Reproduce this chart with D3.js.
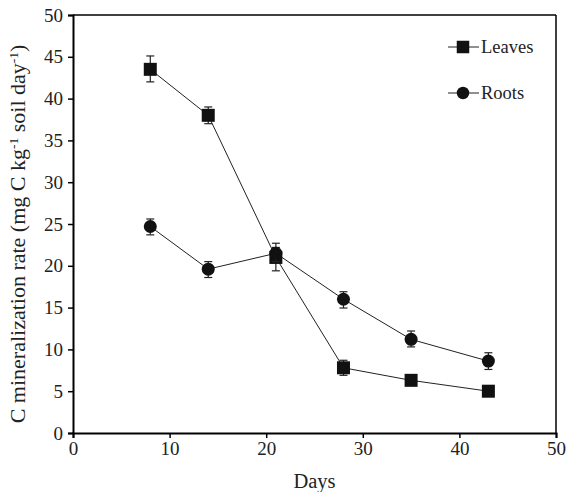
<!DOCTYPE html>
<html><head><meta charset="utf-8">
<script src="https://cdn.jsdelivr.net/npm/d3@7/dist/d3.min.js"></script>
<style>body{margin:0;background:#fff}svg{display:block}</style>
</head><body>
<svg id="c" width="567" height="492"></svg>
<script>
const days = [8, 14, 21, 28, 35, 43];
const leaves = [43.5, 38.0, 21.0, 7.8, 6.3, 5.0];
const leavesLo = [42.0, 37.0, 19.4, 6.9, 5.9, 4.7];
const leavesHi = [45.1, 39.0, 22.2, 8.7, 6.7, 5.3];
const roots = [24.7, 19.6, 21.5, 16.0, 11.2, 8.6];
const rootsLo = [23.7, 18.6, 20.5, 14.95, 10.3, 7.6];
const rootsHi = [25.6, 20.5, 22.7, 16.9, 12.2, 9.6];
const xTicks = [0, 10, 20, 30, 40, 50];
const yTicks = [0, 5, 10, 15, 20, 25, 30, 35, 40, 45, 50];
const seriesNames = ["Leaves", "Roots"];

const svg = d3.select("#c");
const font = "'Liberation Serif', 'Times New Roman', serif";
const x = d3.scaleLinear().domain([0, 50]).range([73, 556]);
const y = d3.scaleLinear().domain([0, 50]).range([433, 15]);

// frame top/right
svg.append("line").attr("x1", x(0)).attr("x2", x(50)).attr("y1", y(50)).attr("y2", y(50)).attr("stroke", "#000").attr("stroke-width", 1.5);
svg.append("line").attr("x1", x(50)).attr("x2", x(50)).attr("y1", y(50)).attr("y2", y(0)).attr("stroke", "#000").attr("stroke-width", 1.5);

const xa = svg.append("g").attr("transform", `translate(0,${y(0)})`)
  .call(d3.axisBottom(x).tickValues(xTicks).tickSize(5).tickPadding(4));
const ya = svg.append("g").attr("transform", `translate(${x(0)},0)`)
  .call(d3.axisLeft(y).tickValues(yTicks).tickSize(5).tickPadding(5));
[xa, ya].forEach(g => {
  g.select(".domain").attr("stroke-width", 2).attr("stroke", "#000");
  g.selectAll(".tick line").attr("stroke-width", 1.5).attr("stroke", "#000");
  g.selectAll("text").attr("font-family", font).attr("font-size", 19).attr("fill", "#222");
});

svg.append("text").attr("x", (x(0) + x(50)) / 2).attr("y", 488).attr("text-anchor", "middle")
  .attr("font-family", font).attr("font-size", 20.5).attr("fill", "#222").text("Days");

const yl = svg.append("text").attr("transform", `translate(25,234) rotate(-90)`)
  .attr("text-anchor", "middle").attr("font-family", font).attr("font-size", 22).attr("fill", "#222");
yl.append("tspan").text("C mineralization rate (mg C kg");
yl.append("tspan").attr("dy", -7).attr("font-size", 13.5).text("-1");
yl.append("tspan").attr("dy", 7).text(" soil day");
yl.append("tspan").attr("dy", -7).attr("font-size", 13.5).text("-1");
yl.append("tspan").attr("dy", 7).text(")");

const line = d3.line().x(d => x(d[0])).y(d => y(d[1]));
const series = [
  {name: seriesNames[0], v: leaves, lo: leavesLo, hi: leavesHi, shape: "square"},
  {name: seriesNames[1], v: roots, lo: rootsLo, hi: rootsHi, shape: "circle"}
];
const fill = "#111";
function marker(g, shape, cx, cy, s) {
  if (shape === "square") g.append("rect").attr("x", cx - s / 2).attr("y", cy - s / 2).attr("width", s).attr("height", s).attr("fill", fill);
  else g.append("circle").attr("cx", cx).attr("cy", cy).attr("r", s / 2).attr("fill", fill);
}
series.forEach(s => {
  const pts = days.map((d, i) => [d, s.v[i]]);
  svg.append("path").attr("d", line(pts)).attr("fill", "none").attr("stroke", "#222").attr("stroke-width", 1);
});
series.forEach(s => {
  const g = svg.append("g");
  days.forEach((d, i) => {
    const cx = x(d);
    g.append("line").attr("x1", cx).attr("x2", cx).attr("y1", y(s.lo[i])).attr("y2", y(s.hi[i])).attr("stroke", "#222").attr("stroke-width", 1.2);
    [s.lo[i], s.hi[i]].forEach(v => g.append("line").attr("x1", cx - 4).attr("x2", cx + 4).attr("y1", y(v)).attr("y2", y(v)).attr("stroke", "#222").attr("stroke-width", 1.2));
    marker(g, s.shape, cx, y(s.v[i]), 13);
  });
});

// legend
series.forEach((s, i) => {
  const ly = 47 + i * 46;
  svg.append("line").attr("x1", 448).attr("x2", 479).attr("y1", ly).attr("y2", ly).attr("stroke", "#222").attr("stroke-width", 1);
  marker(svg, s.shape, 463, ly, 12.5);
  svg.append("text").attr("x", 481).attr("y", ly + 6).attr("font-family", font).attr("font-size", 18.5).attr("fill", "#222").text(s.name);
});
</script>
</body></html>
